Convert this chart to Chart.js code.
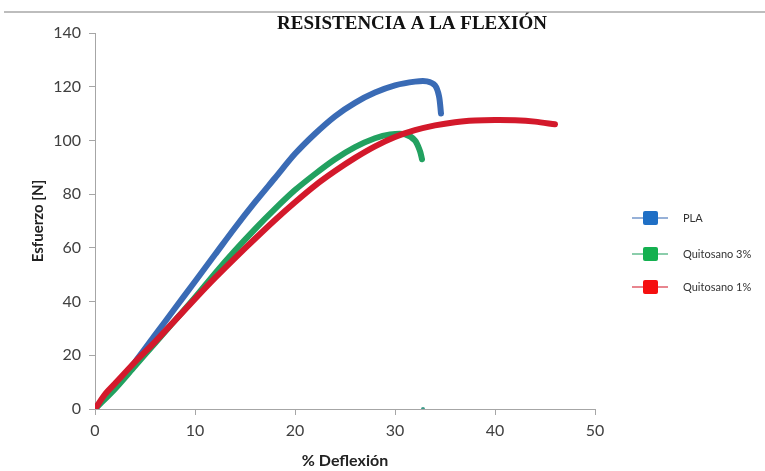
<!DOCTYPE html>
<html>
<head>
<meta charset="utf-8">
<script src="https://cdn.jsdelivr.net/npm/chart.js@4"></script>
<style>
  body { margin: 0; background: #fff; }
  #wrap { width: 765px; height: 471px; position: relative; }
</style>
</head>
<body>
<div id="wrap"><canvas id="flexChart"></canvas></div>
<script>
// Datos
const chartTitle = 'RESISTENCIA A LA FLEXIÓN';
const seriesNames = ['PLA', 'Quitosano 3%', 'Quitosano 1%'];

const plaX = [0, 2, 4, 6, 8, 10, 12, 14, 16, 18, 20, 22, 24, 26, 28, 30, 32, 33.2, 34, 34.4, 34.6];
const plaY = [0, 8.5, 17.5, 27.5, 37.5, 47.5, 57.5, 67.5, 77, 86, 95, 102.5, 109, 114, 117.8, 120.5, 121.9, 122, 120.5, 116.5, 110];

const q3X = [0, 2, 4, 6, 8, 10, 12, 14, 16, 18, 20, 22, 24, 26, 28, 29.5, 31, 32, 32.5, 32.7];
const q3Y = [0, 7.5, 16, 24.5, 33, 41.5, 50.5, 59, 67, 74.5, 81.5, 87.5, 93, 97.5, 100.8, 102.2, 102.3, 100, 96, 93];

const q1X = [0, 1, 2, 4, 6, 8, 10, 12, 14, 16, 18, 20, 22, 24, 26, 28, 30, 32, 34, 36, 38, 40, 42, 44, 46];
const q1Y = [0, 5.5, 9.5, 17.5, 25, 33, 41, 48.8, 56.2, 63.4, 70.4, 77, 83.2, 88.6, 93.5, 97.8, 101.3, 103.8, 105.6, 106.8, 107.4, 107.6, 107.5, 107, 106];

// punto suelto sobre el eje
const strayX = [32.8];
const strayY = [0];

const xTicks = [0, 10, 20, 30, 40, 50];
const yTicks = [0, 20, 40, 60, 80, 100, 120, 140];

const lineColors = ['#3A6BB5', '#22A160', '#D3192B'];
const legendColors = ['#1F6FC5', '#14B050', '#F50F10'];

const toPoints = (xs, ys) => xs.map((x, i) => ({ x: x, y: ys[i] }));

// Título, línea superior y leyenda dibujados a mano
const extras = {
    id: 'extras',
    afterDraw(chart) {
        const ctx = chart.ctx;
        ctx.save();
        ctx.strokeStyle = '#BDBDBD';
        ctx.lineWidth = 2;
        ctx.beginPath();
        ctx.moveTo(4, 12);
        ctx.lineTo(765, 12);
        ctx.stroke();

        ctx.fillStyle = '#111';
        ctx.font = 'bold 19px "Liberation Serif"';
        ctx.textAlign = 'center';
        ctx.textBaseline = 'middle';
        ctx.fillText(chartTitle, 412, 24);

        const ys = [218, 254, 287];
        chart.data.datasets.forEach((ds, i) => {
            if (!ds.label) return;
            const y = ys[i];
            ctx.strokeStyle = ds.borderColor;
            ctx.globalAlpha = 0.7;
            ctx.lineWidth = 1.5;
            ctx.beginPath();
            ctx.moveTo(632, y);
            ctx.lineTo(668, y);
            ctx.stroke();
            ctx.globalAlpha = 1;
            ctx.fillStyle = legendColors[i];
            ctx.beginPath();
            ctx.roundRect(643, y - 7, 15, 14, 2);
            ctx.fill();
            ctx.fillStyle = '#333';
            ctx.font = '11px Lato';
            ctx.textAlign = 'left';
            ctx.fillText(ds.label, 683, y);
        });
        ctx.restore();
    }
};

const lineStyle = { showLine: true, borderWidth: 6, pointRadius: 0, tension: 0.3, borderCapStyle: 'round' };

const ctx = document.getElementById('flexChart').getContext('2d');
const flexChart = new Chart(ctx, {
    type: 'scatter',
    data: {
        datasets: [
            Object.assign({ label: seriesNames[0], data: toPoints(plaX, plaY), borderColor: lineColors[0], backgroundColor: lineColors[0], order: 3 }, lineStyle),
            Object.assign({ label: seriesNames[1], data: toPoints(q3X, q3Y), borderColor: lineColors[1], backgroundColor: lineColors[1], order: 2 }, lineStyle),
            Object.assign({ label: seriesNames[2], data: toPoints(q1X, q1Y), borderColor: lineColors[2], backgroundColor: lineColors[2], order: 1 }, lineStyle),
            { label: '', data: toPoints(strayX, strayY), showLine: false, pointRadius: 2, backgroundColor: '#3E9B8A', borderWidth: 0, order: 0 }
        ]
    },
    options: {
        responsive: true,
        maintainAspectRatio: false,
        animation: false,
        layout: { padding: { top: 33, right: 170, left: 0, bottom: 0 } },
        plugins: {
            legend: { display: false },
            tooltip: { enabled: false }
        },
        scales: {
            x: {
                type: 'linear',
                min: 0, max: 50,
                afterBuildTicks: s => { s.ticks = xTicks.map(v => ({ value: v })); },
                afterFit: s => { s.height = 62; },
                grid: { drawOnChartArea: false, color: '#A6A6A6', tickLength: 6 },
                border: { color: '#A6A6A6' },
                ticks: { color: '#404040', font: { family: 'Lato', size: 16 }, padding: 6 },
                title: { display: true, text: '% Deflexión', color: '#222', font: { family: 'Lato', size: 16, weight: 'bold' }, padding: { top: 0, bottom: 1 } }
            },
            y: {
                type: 'linear',
                min: 0, max: 140,
                afterBuildTicks: s => { s.ticks = yTicks.map(v => ({ value: v })); },
                afterFit: s => { s.width = 95; },
                grid: { drawOnChartArea: false, color: '#A6A6A6', tickLength: 6 },
                border: { color: '#A6A6A6' },
                ticks: { color: '#404040', font: { family: 'Lato', size: 16 }, padding: 8 },
                title: { display: true, text: 'Esfuerzo [N]', color: '#222', font: { family: 'Lato', size: 15, weight: 'bold' }, padding: { top: 29, bottom: 0 } }
            }
        }
    },
    plugins: [extras]
});
</script>
</body>
</html>
